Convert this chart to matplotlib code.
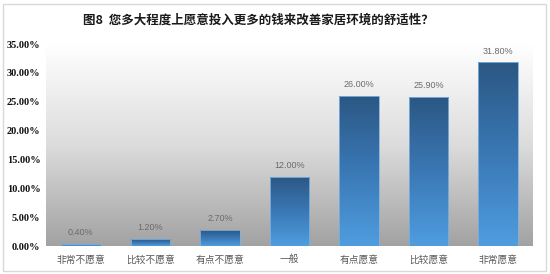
import matplotlib
matplotlib.use('Agg')
import matplotlib.pyplot as plt
import numpy as np
from matplotlib.colors import LinearSegmentedColormap
from matplotlib.patches import Rectangle

plt.rcParams['font.family'] = ['Noto Sans CJK SC', 'DejaVu Sans']

title = '图8  您多大程度上愿意投入更多的钱来改善家居环境的舒适性？'
categories = ['非常不愿意', '比较不愿意', '有点不愿意', '一般', '有点愿意', '比较愿意', '非常愿意']
values = [0.40, 1.20, 2.70, 12.00, 26.00, 25.90, 31.80]
yticks = [0, 5, 10, 15, 20, 25, 30, 35]

fig = plt.figure(figsize=(5.5, 2.74), dpi=100)
ax = fig.add_axes([46 / 550, 28 / 274, 487 / 550, 202 / 274])

# outer frame
fig.patches.append(Rectangle((3 / 550, 3 / 274), 543 / 550, 267 / 274, transform=fig.transFigure,
                             fill=False, edgecolor='#d9d9d9', linewidth=1.0))

x = np.arange(len(categories))
ax.set_xlim(-0.5, len(categories) - 0.5)
ax.set_ylim(0, 35)

# plot area gradient
grad = np.linspace(0, 1, 256).reshape(-1, 1)
bg_cmap = LinearSegmentedColormap.from_list('bg', ['#a2a2a2', '#dcdcdc', '#ffffff'])
ax.imshow(grad, aspect='auto', cmap=bg_cmap, origin='lower',
          extent=[-0.5, len(categories) - 0.5, 0, 35], zorder=0)

bar_cmap = LinearSegmentedColormap.from_list('bar', ['#4f9ddf', '#3a78b5', '#2b5783'])
bars = ax.bar(x, values, width=0.57, color='none', edgecolor='#7fb2e0', linewidth=0.6, zorder=3)
for b in bars:
    bx, by = b.get_x(), b.get_y()
    w, h = b.get_width(), b.get_height()
    im = ax.imshow(grad, aspect='auto', cmap=bar_cmap, origin='lower',
                   extent=[bx, bx + w, by, by + h], zorder=2)
    im.set_clip_path(b)

for xi, v in zip(x, values):
    ax.annotate(f'{v:.2f}%', (xi, v), xytext=(0, 5), textcoords='offset points',
                ha='center', va='bottom', fontsize=6.5, color='#6b6b6b',
                family='Liberation Sans')

ax.set_xticks(x)
ax.set_xticklabels(categories, fontsize=7, color='#595959')
ax.set_yticks(yticks)
ax.set_yticklabels([f'{t:.2f}%' for t in yticks], fontsize=7.5, fontweight='bold',
                   family='Liberation Serif', color='#111111')
ax.tick_params(length=0, pad=6)
ax.tick_params(axis='y', pad=4)
for s in ax.spines.values():
    s.set_visible(False)

fig.text(258 / 550, 1 - 20 / 274, title, ha='center', va='center', fontsize=9,
         fontweight='bold', color='#1a1a1a')

fig.savefig('out.png', dpi=100, facecolor='white')
